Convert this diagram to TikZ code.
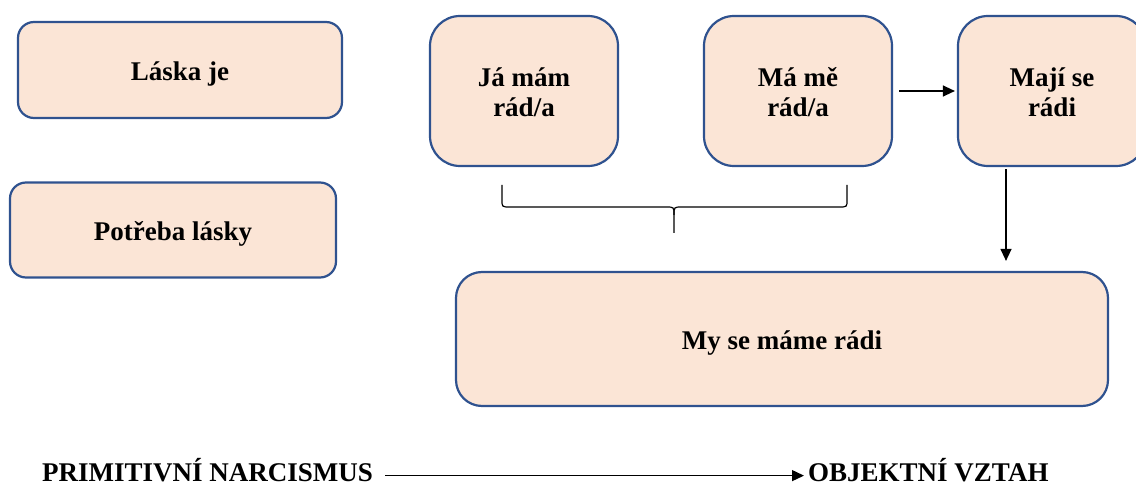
\documentclass[tikz,border=0pt]{standalone}
\usepackage{fontspec}
\setmainfont{Liberation Serif}
\usetikzlibrary{arrows.meta}
\definecolor{boxblue}{HTML}{2F528F}
\definecolor{boxfill}{HTML}{FBE5D6}
\begin{document}
\begin{tikzpicture}[x=1pt,y=-1pt,
  box/.style={draw=boxblue, line width=2.2pt, fill=boxfill, rounded corners=#1,
    font=\fontsize{27}{30}\selectfont\bfseries, align=center, inner sep=0pt,
    text height=26pt, text depth=5pt},
  box/.default=16pt,
  twoline/.style={text height=56pt, text depth=4pt},
  lbl/.style={font=\fontsize{27}{30}\selectfont\bfseries, inner sep=0pt, anchor=base west},
  arr/.style={line width=1.3pt, -{Triangle[length=12pt,width=11pt]}}]
\useasboundingbox (0,0) rectangle (1136,486);
\node[box=16pt, minimum width=324pt, minimum height=96pt] (laska) at (180,70) {Láska je};
\node[box=16pt, minimum width=326pt, minimum height=95pt] (potreba) at (173,230) {Potřeba lásky};
\node[box=30pt, twoline, minimum width=188pt, minimum height=150pt] (ja) at (524,91) {Já mám\\rád/a};
\node[box=30pt, twoline, minimum width=188pt, minimum height=150pt] (ma) at (798,91) {Má mě\\rád/a};
\node[box=30pt, twoline, minimum width=188pt, minimum height=150pt] (maji) at (1052,91) {Mají se\\rádi};
\node[box=26pt, minimum width=652pt, minimum height=134pt] (my) at (782,339) {My se máme rádi};
\draw[arr, shorten <=6pt, shorten >=2pt] (ma.east) -- (maji.west);
\draw[arr, shorten <=2pt, shorten >=10pt] ([xshift=-46pt]maji.south) -- ([xshift=-46pt]maji.south |- my.north);
% brace
\draw[line width=1.2pt] (502,185) -- (502,200) .. controls (502,207) .. (510,207) -- (666,207)
  .. controls (674,207) .. (674,215) -- (674,233);
\draw[line width=1.2pt] (847,185) -- (847,200) .. controls (847,207) .. (839,207) -- (682,207)
  .. controls (674,207) .. (674,215);
\node[lbl] (prim) at (42,481) {PRIMITIVNÍ NARCISMUS};
\node[lbl] (obj) at (808,481) {OBJEKTNÍ VZTAH};
\draw[arr, shorten <=12pt, shorten >=4pt] ([yshift=-6pt]prim.east) -- ([yshift=-6pt]obj.west);
\end{tikzpicture}
\end{document}
